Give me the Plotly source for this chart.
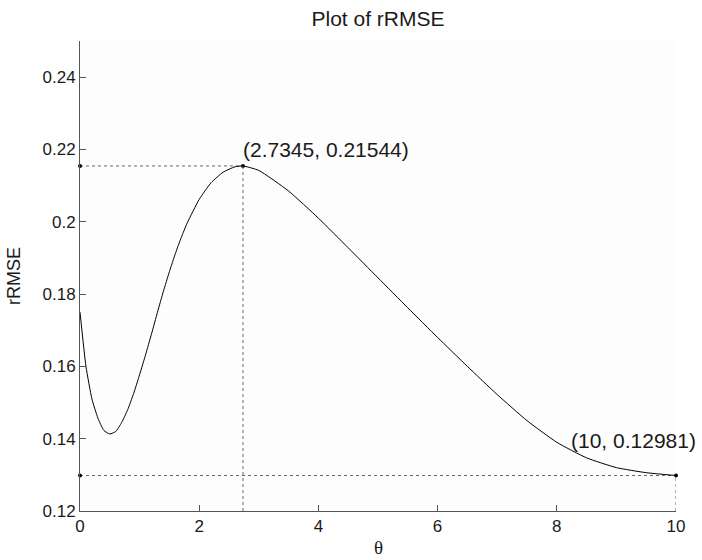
import plotly.graph_objects as go

# ---- data ----
theta = [0.0, 0.1, 0.2, 0.3, 0.4, 0.5, 0.6, 0.7, 0.8, 0.9, 1.0, 1.1, 1.2, 1.3, 1.4,
         1.5, 1.6, 1.7, 1.8, 2.0, 2.2, 2.4, 2.6, 2.7345, 3.0, 3.5, 4.0, 4.5, 5.0,
         5.5, 6.0, 6.5, 7.0, 7.5, 8.0, 8.5, 9.0, 9.5, 10.0]
rrmse = [0.1750, 0.1600, 0.1510, 0.1457, 0.1423, 0.1413, 0.1420, 0.1445, 0.1480,
         0.1525, 0.1577, 0.1632, 0.1690, 0.1750, 0.1808, 0.1862, 0.1912, 0.1957,
         0.1997, 0.2062, 0.2108, 0.2137, 0.2152, 0.21544, 0.2142, 0.2085, 0.2010,
         0.1928, 0.1845, 0.1762, 0.1680, 0.1600, 0.1522, 0.1450, 0.1390, 0.1347,
         0.1320, 0.1306, 0.12981]

peak_x, peak_y = 2.7345, 0.21544
end_x, end_y = 10.0, 0.12981
peak_label = "(2.7345, 0.21544)"
end_label = "(10, 0.12981)"

x_ticks = [0, 2, 4, 6, 8, 10]
y_ticks = [0.12, 0.14, 0.16, 0.18, 0.20, 0.22, 0.24]
y_tick_text = ["0.12", "0.14", "0.16", "0.18", "0.2", "0.22", "0.24"]
x_range = [0, 10]
y_range = [0.12, 0.25]

title_text = "Plot of rRMSE"
x_title = "θ"
y_title = "rRMSE"

# ---- figure ----
fig = go.Figure()

dot_style = dict(color="#666666", width=1, dash="dot")
marker_style = dict(color="black", size=4)

# guide lines for the peak
fig.add_trace(go.Scatter(x=[0, peak_x], y=[peak_y, peak_y], mode="lines+markers",
                         line=dot_style, marker=marker_style, cliponaxis=False,
                         hoverinfo="skip", showlegend=False))
fig.add_trace(go.Scatter(x=[peak_x, peak_x], y=[y_range[0], peak_y], mode="lines",
                         line=dot_style, cliponaxis=False, hoverinfo="skip",
                         showlegend=False))
# guide lines for the end point
fig.add_trace(go.Scatter(x=[0, end_x], y=[end_y, end_y], mode="lines+markers",
                         line=dot_style, marker=marker_style, cliponaxis=False,
                         hoverinfo="skip", showlegend=False))
fig.add_trace(go.Scatter(x=[end_x, end_x], y=[y_range[0], end_y], mode="lines",
                         line=dot_style, cliponaxis=False, hoverinfo="skip",
                         showlegend=False))

# main curve
fig.add_trace(go.Scatter(x=theta, y=rrmse, mode="lines",
                         line=dict(color="black", width=1, shape="spline", smoothing=0.5),
                         showlegend=False))

tick_font = dict(family="Liberation Sans, Arial, sans-serif", size=17, color="#1a1a1a")
axis_common = dict(showline=True, linecolor="#555555", linewidth=1, mirror=False,
                   ticks="inside", ticklen=6, tickcolor="#555555", tickwidth=1,
                   showgrid=False, zeroline=False, tickfont=tick_font)

fig.update_xaxes(range=x_range, tickvals=x_ticks, **axis_common)
fig.update_yaxes(range=y_range, tickvals=y_ticks, ticktext=y_tick_text, **axis_common)

fig.update_layout(
    width=702, height=560,
    margin=dict(l=80, r=26, t=41, b=49),
    paper_bgcolor="white", plot_bgcolor="#fdfdfd",
    title=dict(text=title_text, x=0.5, xref="paper", xanchor="center",
               y=1 - 19 / 560, yref="container", yanchor="middle",
               font=dict(family="Liberation Sans, Arial, sans-serif", size=21, color="#1a1a1a")),
    annotations=[
        dict(x=peak_x, y=peak_y, xref="x", yref="y", text=peak_label, showarrow=False,
             xanchor="left", yanchor="middle", xshift=-2, yshift=16,
             font=dict(family="Liberation Sans, Arial, sans-serif", size=21, color="#1a1a1a")),
        dict(x=end_x, y=end_y, xref="x", yref="y", text=end_label, showarrow=False,
             xanchor="right", yanchor="middle", xshift=22, yshift=35,
             font=dict(family="Liberation Sans, Arial, sans-serif", size=21, color="#1a1a1a")),
        dict(x=-66 / 596, y=0.5, xref="paper", yref="paper", text=y_title, showarrow=False,
             textangle=-90, xanchor="center", yanchor="middle",
             font=dict(family="Liberation Sans, Arial, sans-serif", size=18, color="#1a1a1a")),
        dict(x=0.5, y=-36 / 470, xref="paper", yref="paper", text=x_title, showarrow=False,
             xanchor="center", yanchor="middle",
             font=dict(family="Liberation Serif, Times New Roman, serif", size=19, color="#1a1a1a")),
    ],
)

fig.write_html("out.html")
